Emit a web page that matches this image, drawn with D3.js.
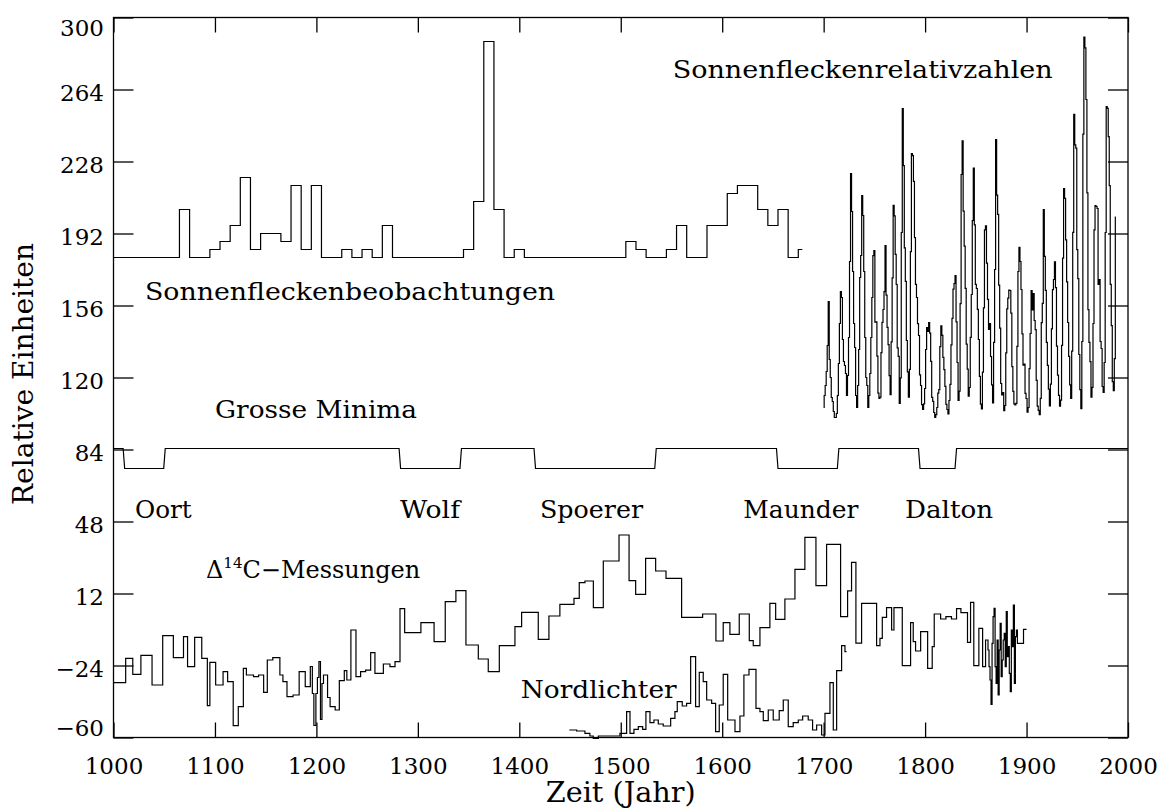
<!DOCTYPE html>
<html><head><meta charset="utf-8">
<script src="https://cdn.jsdelivr.net/npm/d3@7"></script>
<style>
html,body{margin:0;padding:0;background:#fff;}
svg text{font-family:"DejaVu Serif",serif;fill:#000;}
</style></head>
<body><svg id="c" width="1161" height="808"></svg>
<script>
// ---------- data ----------
const xTicks = [1000,1100,1200,1300,1400,1500,1600,1700,1800,1900,2000];
const yTicks = [-60,-24,12,48,84,120,156,192,228,264,300];

// Sonnenfleckenbeobachtungen (bin start years, plotted level), last entry = end year
const obsStart = [1000,1065,1075,1095,1105,1115,1125,1135,1145,1165,1175,1185,1195,1205,1225,1235,1245,1255,1265,1275,1345,1355,1365,1375,1385,1395,1405,1505,1515,1525,1545,1555,1565,1585,1605,1615,1635,1645,1655,1665,1675];
const obsValue = [180,204,180,184,188,196,220,184,192,188,216,184,216,180,184,180,184,180,196,180,184,208,288,204,180,184,180,188,184,180,184,196,180,196,212,216,204,196,204,180,184];
const obsEnd = 1679;

// Sonnenfleckenrelativzahlen (yearly sunspot numbers 1700-1988), plotted with offset
const ssnYears = d3.range(1700, 1989);
const ssnValues = [5,11,16,23,36,58,29,20,10,8,3,0,0,2,11,27,47,63,60,39,28,26,22,11,21,40,78,122,103,73,47,35,11,5,16,34,70,81,111,101,73,40,20,16,5,11,22,40,60,80.9,83.4,47.7,47.8,30.7,12.2,9.6,10.2,32.4,47.6,54,62.9,85.9,61.2,45.1,36.4,20.9,11.4,37.8,69.8,106.1,100.8,81.6,66.5,34.8,30.6,7,19.8,92.5,154.4,125.9,84.8,68.1,38.5,22.8,10.2,24.1,82.9,132,130.9,118.1,89.9,66.6,60,46.9,41,21.3,16,6.4,4.1,6.8,14.5,34,45,43.1,47.5,42.2,28.1,10.1,8.1,2.5,0,1.4,5,12.2,13.9,35.4,45.8,41.1,30.1,23.9,15.6,6.6,4,1.8,8.5,16.6,36.3,49.6,64.2,67,70.9,47.8,27.5,8.5,13.2,56.9,121.5,138.3,103.2,85.7,64.6,36.7,24.2,10.7,15,40.1,61.5,98.5,124.7,96.3,66.6,64.5,54.1,39,20.6,6.7,4.3,22.7,54.8,93.8,95.8,77.2,59.1,44,47,30.5,16.3,7.3,37.6,74,139,111.2,101.6,66.2,44.7,17,11.3,12.4,3.4,6,32.3,54.3,59.7,63.7,63.5,52.2,25.4,13.1,6.8,6.3,7.1,35.6,73,85.1,78,64,41.8,26.2,26.7,12.1,9.5,2.7,5,24.4,42,63.5,53.8,62,48.5,43.9,18.6,5.7,3.6,1.4,9.6,47.4,57.1,103.9,80.6,63.6,37.6,26.1,14.2,5.8,16.7,44.3,63.9,69,77.8,64.9,35.7,21.2,11.1,5.7,8.7,36.1,79.7,114.4,109.6,88.8,67.8,47.5,30.6,16.3,9.6,33.2,92.6,151.6,136.3,134.7,83.9,69.4,31.5,13.9,4.4,38,141.7,190.2,184.8,159,112.3,53.9,37.6,27.9,10.2,15.1,47,93.8,105.9,105.5,104.5,66.6,68.9,38,34.5,15.5,12.6,27.5,92.5,155.4,154.6,140.4,115.9,66.6,45.9,17.9,13.4,29.4,100.2];
const ssnOffset = 100;

// Grosse Minima
const minimaNames = ["Oort","Wolf","Spoerer","Maunder","Dalton"];
const minimaStart = [1010,1282,1415,1654,1794];
const minimaEnd   = [1050,1342,1534,1714,1830];
const minimaHigh = 84.5, minimaLow = 74.5;

// Delta 14C (bin start years, values), last = end
const c14Start = [1000,1012,1019,1027,1038,1048.5,1059,1069,1073,1080,1087,1092.5,1095,1100.7,1108,1112.5,1118,1123,1128,1131,1138,1143,1148,1151.6,1157,1164,1167,1171,1177,1183,1189,1194,1196,1197.5,1199.5,1201,1202.5,1204,1205.5,1207,1211,1213.5,1218.5,1222.6,1227.5,1230,1234,1239,1243.6,1248.5,1253.5,1257.7,1266,1272.5,1277.5,1282.4,1287,1303,1316,1327,1337.5,1347.4,1359.6,1369.4,1380.3,1395.7,1402.3,1418.7,1429.2,1440,1453.9,1459.1,1464.7,1473,1482.8,1498.3,1508.2,1514.7,1524.5,1534.4,1544.6,1560,1580.7,1593.8,1601,1607.6,1616.8,1626.7,1630.6,1637.2,1647,1652.7,1661.8,1671.7,1681.5,1692.4,1702.9,1716.7,1723.6,1727.5,1731.8,1737.4,1752.2,1755.5,1757.8,1762,1767,1769.3,1777.5,1785.7,1788.3,1790.6,1795.6,1802.5,1807,1809,1815.3,1820.5,1826,1831,1835.3,1841.8,1844.8,1848,1853,1856.7,1859.6,1861,1862,1863,1864,1865,1866,1867,1868,1869,1870,1871,1872,1873,1874,1875,1876,1877,1878,1879,1880,1881,1882,1883,1884,1885,1886,1887,1888,1889,1890,1891,1897];
const c14Value = [-32.6,-20.4,-28.4,-18.9,-33.75,-9.1,-20.1,-9.6,-24.6,-9.9,-20.4,-44.1,-22.4,-33.75,-27.1,-32.1,-54.1,-44.6,-25.4,-28.75,-29.6,-28.75,-37.4,-21.25,-20.1,-28.75,-32.1,-39.6,-38.75,-27.1,-34.6,-24.5,-38,-54,-38,-30,-22,-51,-33,-28.75,-40,-44.6,-46.25,-31.6,-26.6,-31.25,-6.25,-29.6,-27.1,-26.3,-17.6,-27.9,-23.25,-24.6,-22.1,4.4,-7.6,-2.6,-12.1,7.9,13.4,-13.75,-20.75,-27.1,-14.1,-4.6,2.6,-10.9,0.75,6.6,9.6,17.4,18.25,4.9,28.25,41.25,18.4,11.6,29.6,23.25,19.6,0.1,1.75,-11.75,-2.6,-8.4,1.75,-11.6,-14.1,-5.1,7.1,-0.9,9.25,24.1,40.1,15.9,36.6,0.4,13.3,27.6,-12.8,7.1,-14.1,-10.4,0.1,4.9,-6.25,4.9,-24.1,-2.6,-12.1,-16.75,-7.1,-25.4,-14.6,1.75,-0.75,0.4,-0.75,4.4,2.4,-12.4,7.6,-24.1,-5.4,-24.6,-11.25,-11.25,-16.25,-24.6,-31.25,-43.4,-12.9,0.4,4.6,-24.6,-32.9,-11.25,-38.75,-16.25,-2.9,-29.6,-21.25,-11.25,-7.9,-24.6,2.9,-19.6,-14.6,-27.9,-37.1,-6.25,-14.6,6.25,-32.9,-9.6,-6.25,-12.9,-5.9];
const c14End = 1900;

// Nordlichter (bin start years, values), last = end
const aurStart = [1449.3,1456.5,1464.7,1469.6,1472.9,1477.9,1499.2,1505.8,1509.1,1513,1517.3,1521.6,1524.8,1528.8,1532.7,1537,1541.9,1549.2,1553.4,1555.7,1560.6,1564.9,1568.9,1573.8,1577.4,1581.3,1584.7,1589.6,1593.5,1597.1,1601,1605.4,1612.6,1617.5,1621.4,1626.4,1633.3,1637.2,1640.5,1645.4,1650.3,1656.2,1660.2,1665.1,1670,1675,1679.3,1684.8,1689.1,1693.1,1698,1701.3,1706.2,1709.5,1712.8,1717.7,1721];
const aurValue = [-56.25,-56.75,-57.9,-59.25,-60.4,-59.25,-57.9,-47.1,-57.9,-55.9,-54.6,-55.9,-47.1,-52.6,-51.25,-53.25,-54.25,-50.4,-47.1,-42.1,-44.25,-42.9,-19.6,-44.6,-27.4,-32.1,-41.25,-42.9,-57.1,-43.75,-28.4,-51.25,-57.1,-49.25,-28.75,-25.9,-45.4,-47.1,-51.6,-46.25,-51.25,-46.6,-41.25,-54.6,-52.6,-51.25,-49.25,-51.25,-56.25,-53.75,-58.75,-47.9,-32.6,-56.25,-26.6,-14.1,-17.1];
const aurEnd = 1722.6;

// ---------- drawing ----------
const svg = d3.select("#c");
const L = 113.5, R = 1128, T = 17.5, B = 737.5;
const x = d3.scaleLinear().domain([1000,2000]).range([L,R]);
const y = d3.scaleLinear().domain([-60,300]).range([B,T]);

function stepPts(starts, vals, end){
  const p = starts.map((s,i)=>[s, vals[i]]);
  p.push([end, vals[vals.length-1]]);
  return p;
}
const stepLine = d3.line().x(d=>x(d[0])).y(d=>y(d[1])).curve(d3.curveStepAfter);
const centerStep = d3.line().x(d=>x(d[0])).y(d=>y(d[1])).curve(d3.curveStep);
const linLine = d3.line().x(d=>x(d[0])).y(d=>y(d[1]));

const g = svg.append("g").attr("fill","none").attr("stroke","#000").attr("stroke-width",1.2);

g.append("path").attr("d", stepLine(stepPts(obsStart, obsValue, obsEnd)));
g.append("path").attr("d", centerStep(ssnYears.map((yr,i)=>[yr, ssnValues[i]+ssnOffset])));

const mPts = [[1000, minimaHigh]];
minimaStart.forEach((s,i)=>{
  mPts.push([s-0.5, minimaHigh],[s+1, minimaLow],[minimaEnd[i]-0.5, minimaLow],[minimaEnd[i]+1, minimaHigh]);
});
mPts.push([2000, minimaHigh]);
g.append("path").attr("d", linLine(mPts));

g.append("path").attr("d", stepLine(stepPts(c14Start, c14Value, c14End)));
g.append("path").attr("d", stepLine(stepPts(aurStart, aurValue, aurEnd)));

// ---------- axes ----------
const axG = svg.append("g");
axG.append("rect").attr("x",L).attr("y",T).attr("width",R-L).attr("height",B-T)
  .attr("fill","none").attr("stroke","#000").attr("stroke-width",1.3);

const axBottom = axG.append("g").attr("transform",`translate(0,${B})`)
  .call(d3.axisBottom(x).tickValues(xTicks).tickFormat(d3.format("d")).tickSizeInner(-15).tickSizeOuter(0).tickPadding(20.5));
const axTop = axG.append("g").attr("transform",`translate(0,${T})`)
  .call(d3.axisTop(x).tickValues(xTicks).tickFormat("").tickSizeInner(-15).tickSizeOuter(0));
const axLeft = axG.append("g").attr("transform",`translate(${L},0)`)
  .call(d3.axisLeft(y).tickValues(yTicks).tickFormat(d=>d<0?"\u2212"+Math.abs(d):d).tickSizeInner(-20).tickSizeOuter(0).tickPadding(9.5));
const axRight = axG.append("g").attr("transform",`translate(${R},0)`)
  .call(d3.axisRight(y).tickValues(yTicks).tickFormat("").tickSizeInner(-20).tickSizeOuter(0));

[axBottom,axTop,axLeft,axRight].forEach(a=>{
  a.select(".domain").remove();
  a.selectAll(".tick line").attr("stroke","#000").attr("stroke-width",1.3);
  a.selectAll("text").attr("font-family","DejaVu Serif").attr("font-size",23).attr("fill","#000");
});
axLeft.selectAll(".tick text").attr("dy", d => d===300 ? "0.765em" : (d===-60 ? "-0.09em" : "0.47em"));

// axis titles
svg.append("text").attr("x",(L+R)/2).attr("y",802).attr("text-anchor","middle")
  .attr("font-size",27).attr("textLength",150).attr("lengthAdjust","spacingAndGlyphs").text("Zeit (Jahr)");
svg.append("text").attr("transform","translate(33.3,374) rotate(-90)").attr("text-anchor","middle")
  .attr("font-size",27).attr("textLength",262).attr("lengthAdjust","spacingAndGlyphs").text("Relative Einheiten");

// labels
const lab = (t,xx,yy,len)=>{
  const e = svg.append("text").attr("x",xx).attr("y",yy).attr("font-size",24).text(t);
  if(len) e.attr("textLength",len).attr("lengthAdjust","spacingAndGlyphs");
  return e;
};
lab("Sonnenfleckenrelativzahlen", 672.7, 78.3, 380);
lab("Sonnenfleckenbeobachtungen", 145, 300, 410);
lab("Grosse Minima", 215, 418, 202);
const mLabX = [135, 400, 540, 743.3, 905];
const mLabW = [56.7, 60, 103, 115, 88];
minimaNames.forEach((n,i)=> lab(n, mLabX[i], 518, mLabW[i]));
const dl = svg.append("text").attr("x",206).attr("y",578.3).attr("font-size",24);
dl.append("tspan").text("\u0394");
dl.append("tspan").attr("font-size",15).attr("dy",-10).text("14");
dl.append("tspan").attr("dy",10).text("C\u2212Messungen");
lab("Nordlichter", 520.7, 698.3, 156);
</script></body></html>
